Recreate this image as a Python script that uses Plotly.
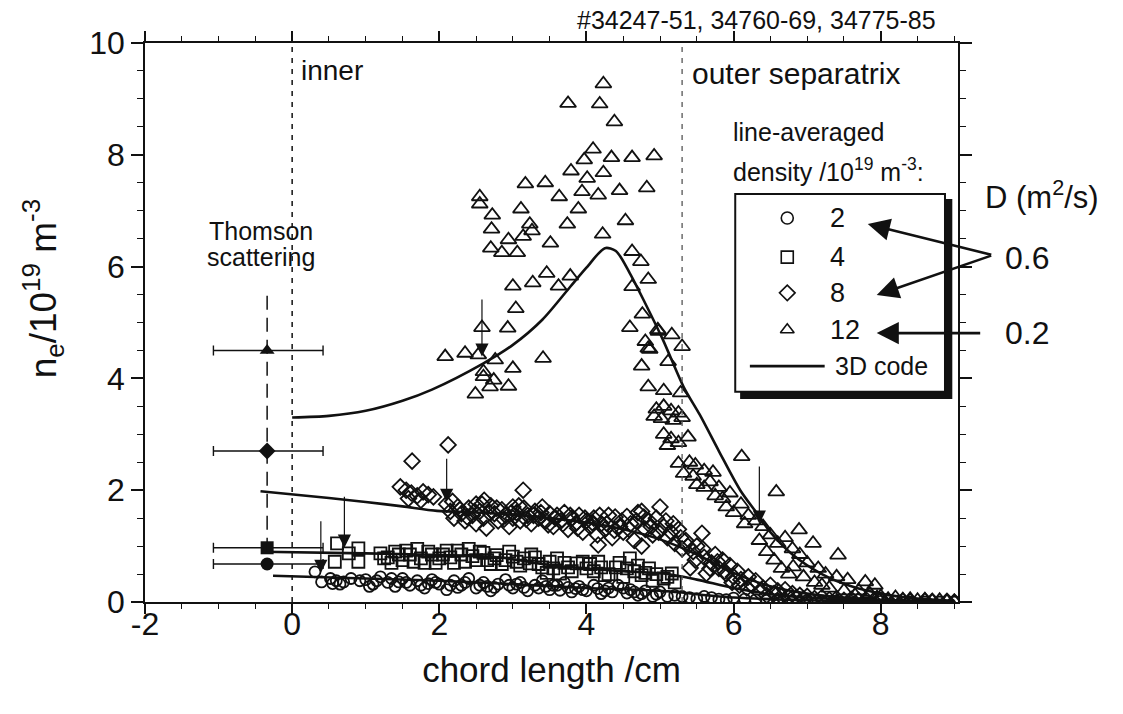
import plotly.graph_objects as go

# ---------------- data ----------------
tri_x = [4.23,3.75,4.18,4.38,4.09,3.97,4.34,4.62,4.92,3.79,4.23,4.01,3.17,3.44,3.94,3.63,4.16,4.45,4.82,
         2.55,2.55,3.11,3.89,2.72,3.74,4.53,2.71,3.23,3.26,3.14,2.94,4.22,3.51,2.70,2.85,3.06,4.62,4.74,
         4.84,4.62,3.46,3.78,3.00,3.27,3.62,3.04,2.58,2.93,4.76,4.59,4.97,5.16,5.30,4.80,4.84,2.08,2.35,
         2.53,2.76,3.41,2.60,2.60,2.74,3.00,2.69,2.94,2.49,4.75,4.84,5.05,5.11,5.28,4.98,4.86,
         4.95,5.05,5.15,5.25,4.92,5.02,5.18,5.30,5.05,5.15,5.25,5.38,5.10,
         5.25,5.40,5.48,5.32,5.45,5.60,5.72,5.50,5.60,5.68,5.80,5.75,5.85,5.95,
         5.90,6.00,6.10,6.20,6.30,6.40,6.15,6.11,6.58,
         6.35,6.50,6.60,6.70,6.80,6.90,6.45,6.55,6.89,7.08,7.42,
         7.00,7.15,7.25,7.40,7.55,6.81,7.10,7.79,7.92,7.70,7.85,8.00,8.20,8.40,8.60,8.80,
         8.50,8.70,8.90,9.00,7.30,7.50,7.65,7.95,8.10,8.30,7.20,6.95,6.65,6.75]
tri_y = [9.27,8.92,8.91,8.59,8.10,7.91,7.95,7.95,7.98,7.71,7.68,7.58,7.48,7.50,7.34,7.25,7.28,7.36,7.41,
         7.25,7.12,7.03,7.03,6.92,6.76,6.82,6.67,6.76,6.64,6.54,6.48,6.58,6.42,6.33,6.25,6.25,6.27,6.09,
         5.77,5.64,5.88,5.83,5.65,5.71,5.65,5.25,4.91,4.90,5.15,4.91,4.87,4.78,4.57,4.66,4.54,4.39,4.45,
         4.42,4.33,4.36,4.12,4.03,3.97,4.18,3.85,3.86,3.72,4.22,3.85,3.78,4.30,3.74,4.84,4.52,
         3.45,3.50,3.42,3.38,3.32,3.28,3.25,3.30,3.00,2.92,2.85,2.95,2.80,
         2.48,2.50,2.45,2.30,2.25,2.35,2.32,2.10,2.05,2.15,2.05,1.90,1.85,1.95,
         1.70,1.60,1.75,1.55,1.45,1.35,1.40,2.60,1.97,
         1.10,1.20,1.05,1.15,0.95,0.85,0.90,0.75,1.29,1.05,0.84,
         0.70,0.60,0.50,0.45,0.40,0.63,0.35,0.36,0.30,0.20,0.15,0.10,0.08,0.05,0.04,0.03,
         0.03,0.02,0.01,0.01,0.25,0.20,0.12,0.08,0.05,0.04,0.30,0.45,0.60,0.50]

dia_x = [2.12,1.63,3.14,2.61,2.64,4.16,4.75,
         1.47,1.55,1.62,1.70,1.78,1.85,1.92,1.58,1.75,
         2.10,2.15,2.20,2.25,2.30,2.35,2.40,2.45,2.50,2.50,
         2.55,2.60,2.70,2.75,2.80,2.85,2.90,2.95,3.00,3.00,
         3.05,3.10,3.15,3.20,3.25,3.30,3.35,3.40,3.45,3.50,
         3.55,3.60,3.65,3.70,3.75,3.80,3.85,3.90,3.95,4.00,
         4.05,4.10,4.15,4.20,4.25,4.30,4.35,4.39,4.45,4.50,
         4.55,4.60,4.65,4.70,4.75,4.80,4.85,4.90,5.00,4.95,
         5.05,5.10,5.15,5.20,5.25,5.30,5.35,5.41,5.45,5.50,5.57,
         5.60,5.63,5.70,5.75,5.80,5.85,5.90,5.95,6.00,
         6.05,6.10,6.20,6.25,6.30,6.40,6.50,6.60,6.70,6.80,6.90,
         7.00,7.20,7.40,7.60,7.80,8.00,8.30,8.60,8.90,
         2.18,2.28,2.38,2.48,2.58,2.68,2.78,2.88,2.98,3.08,3.18,3.28,3.38,3.48,3.58,3.68,3.78,3.88,
         3.98,4.08,4.18,4.28,4.38,4.48,4.58,4.68,4.78,4.88,4.98,5.08,5.18,5.28,5.38,5.48,5.58,5.68,
         5.78,5.88,5.98,6.08,6.18,6.35,6.45,6.55,6.65,6.75,6.85,6.95,7.10,7.30,7.50,7.70,7.90,8.10,
         8.40,8.70,9.00]
dia_y = [2.81,2.52,2.00,1.82,1.32,1.02,1.00,
         2.06,2.00,1.95,1.90,1.97,1.92,1.88,1.85,1.82,
         1.75,1.62,1.50,1.70,1.58,1.45,1.68,1.55,1.40,1.75,
         1.62,1.50,1.72,1.58,1.45,1.65,1.55,1.35,1.70,1.50,
         1.60,1.45,1.68,1.55,1.40,1.62,1.50,1.70,1.45,1.58,
         1.35,1.55,1.45,1.60,1.30,1.50,1.40,1.55,1.25,1.45,
         1.35,1.50,1.20,1.40,1.30,1.55,1.15,1.52,1.35,1.25,
         1.53,1.40,1.10,1.60,1.62,1.30,1.45,1.20,1.70,1.50,
         1.35,1.15,1.25,1.05,1.30,0.95,1.10,0.61,0.90,1.00,1.23,
         0.80,0.51,0.70,0.85,0.60,0.75,0.50,0.65,0.45,
         0.55,0.40,0.45,0.30,0.38,0.25,0.30,0.20,0.22,0.15,0.12,
         0.10,0.08,0.06,0.05,0.04,0.03,0.02,0.02,0.01,
         1.80,1.65,1.52,1.62,1.75,1.60,1.68,1.48,1.60,1.72,1.48,1.55,1.60,1.38,1.50,1.40,1.55,1.32,
         1.50,1.42,1.55,1.40,1.28,1.45,1.30,1.45,1.52,1.35,1.25,1.45,1.40,1.15,1.00,0.75,0.95,0.60,
         0.72,0.55,0.35,0.30,0.25,0.18,0.12,0.15,0.10,0.08,0.07,0.05,0.06,0.04,0.03,0.03,0.02,0.02,
         0.01,0.01,0.00]

sq_x = [0.61,0.90,0.58,0.90,0.77,1.20,
        1.30,1.40,1.50,1.60,1.70,1.80,1.90,2.00,2.10,2.20,2.30,2.40,2.50,2.60,2.70,2.78,2.90,3.00,
        3.10,3.23,3.30,3.46,3.50,3.60,3.64,3.75,3.87,4.00,4.10,4.16,4.30,4.40,4.50,4.59,4.65,4.75,
        4.85,4.95,5.05,5.16,5.20,
        1.35,1.55,1.75,1.95,2.15,2.35,2.55,2.75,2.95,3.15,3.35,3.55,3.70,3.95,4.20,4.45,4.70,4.90,
        1.25,1.45,1.65,1.85,2.05,2.25,2.45,2.65,2.85,3.05,3.25,3.40,3.80,4.05,4.25,4.55,4.80,5.10]
sq_y = [1.05,0.96,0.72,0.72,0.87,0.87,
        0.80,0.90,0.75,0.85,0.95,0.70,0.85,0.78,0.92,0.70,0.85,0.95,0.75,0.88,0.68,0.84,0.75,0.81,
        0.65,0.69,0.80,0.52,0.72,0.78,0.51,0.62,0.69,0.60,0.55,0.72,0.50,0.62,0.45,0.78,0.55,0.48,
        0.60,0.50,0.42,0.51,0.35,
        0.70,0.92,0.78,0.70,0.80,0.72,0.90,0.78,0.90,0.78,0.68,0.60,0.70,0.72,0.62,0.70,0.65,0.38,
        0.78,0.85,0.72,0.90,0.85,0.92,0.82,0.75,0.68,0.72,0.85,0.62,0.55,0.68,0.48,0.60,0.52,0.45]

cir_x = [0.31,0.40,0.52,0.60,0.70,0.80,0.92,0.55,0.65,
         1.00,1.10,1.20,1.30,1.40,1.50,1.60,1.70,1.80,1.90,2.00,
         2.10,2.20,2.30,2.40,2.50,2.60,2.70,2.80,2.90,3.00,
         3.10,3.20,3.30,3.40,3.50,3.60,3.64,3.70,3.80,3.90,4.00,
         4.10,4.20,4.30,4.43,4.55,4.60,4.70,4.80,4.90,5.00,
         5.20,5.40,5.60,5.80,6.00,6.30,6.60,7.00,7.40,7.80,8.20,8.60,9.00,
         1.05,1.45,1.85,2.25,2.65,3.05,3.45,3.85,4.25,4.65,
         1.15,1.35,1.55,1.75,1.95,2.15,2.35,2.55,2.75,2.95,3.15,3.35,3.55,3.75,3.95,4.15,4.35,4.50,
         4.75,4.95,5.10,5.30,5.50,5.70,5.90,6.15,6.45,6.80,7.20,7.60,8.00,8.40,8.80]
cir_y = [0.54,0.36,0.42,0.38,0.36,0.42,0.38,0.33,0.32,
         0.40,0.32,0.45,0.35,0.28,0.42,0.30,0.38,0.25,0.40,0.32,
         0.22,0.38,0.30,0.42,0.25,0.35,0.20,0.32,0.40,0.25,
         0.35,0.20,0.30,0.38,0.22,0.30,0.21,0.35,0.18,0.28,0.20,
         0.30,0.15,0.25,0.30,0.16,0.22,0.12,0.20,0.10,0.18,
         0.12,0.08,0.10,0.05,0.07,0.04,0.05,0.03,0.02,0.02,0.01,0.00,0.00,
         0.28,0.36,0.33,0.26,0.28,0.32,0.28,0.24,0.20,0.18,
         0.38,0.42,0.35,0.30,0.35,0.30,0.35,0.30,0.26,0.30,0.26,0.25,0.30,0.26,0.22,0.24,0.18,0.25,
         0.15,0.14,0.10,0.10,0.06,0.08,0.04,0.05,0.03,0.03,0.02,0.01,0.01,0.00,0.00]

# 3D code curves
m12_x = [0.0,0.5,1.0,1.5,1.9,2.6,3.0,3.4,3.78,4.0,4.25,4.4,4.59,4.8,5.04,5.32,5.54,5.8,6.09,6.31,6.5,6.8,7.2,7.6,8.0,8.5,9.0]
m12_y = [3.30,3.33,3.42,3.60,3.80,4.27,4.60,5.05,5.64,5.98,6.33,6.28,5.88,5.34,4.69,3.85,3.35,2.70,2.00,1.60,1.25,0.85,0.50,0.28,0.15,0.06,0.02]
m8_x = [-0.43,0.5,1.0,1.5,1.97,2.5,3.0,3.5,4.0,4.5,5.0,5.5,6.0,6.5,7.0,7.5,8.0,8.5,9.0]
m8_y = [1.98,1.86,1.79,1.71,1.63,1.60,1.56,1.50,1.42,1.30,1.12,0.85,0.52,0.28,0.15,0.08,0.04,0.02,0.01]
m4_x = [-0.40,1.0,2.0,2.8,3.5,4.0,4.5,5.1,5.5,6.0,6.5,7.0,8.0,9.0]
m4_y = [0.90,0.87,0.84,0.80,0.66,0.60,0.55,0.50,0.40,0.25,0.14,0.08,0.03,0.01]
m2_x = [-0.26,1.0,2.0,3.0,4.0,5.0,6.0,7.0,8.0,9.0]
m2_y = [0.47,0.42,0.38,0.32,0.25,0.20,0.08,0.03,0.01,0.0]

# Thomson scattering
ts_x = [-0.34, -0.34, -0.34, -0.34]
ts_y = [4.50, 2.70, 0.97, 0.68]
ts_err_minus = [0.73, 0.73, 0.73, 0.73]
ts_err_plus = [0.76, 0.76, 0.76, 0.76]
ts_symbols = ["triangle-up", "diamond", "square", "circle"]

# arrows marking positions (x, tail y, head y)
arr_x = [0.39, 0.71, 2.10, 2.58, 6.35]
arr_tail = [1.47, 1.91, 2.59, 5.44, 2.45]
arr_head = [0.52, 0.97, 1.79, 4.39, 1.40]

x_ticks = [-2, 0, 2, 4, 6, 8]
x_ticktext = ["-2", "0", "2", "4", "6", "8"]
y_ticks = [0, 2, 4, 6, 8, 10]

legend_labels = ["2", "4", "8", "12"]
legend_symbols = ["circle-open", "square-open", "diamond-open", "triangle-up-open"]

FONT = "Liberation Sans, Arial, Helvetica, sans-serif"
INK = "#111111"

fig = go.Figure()

def open_series(x, y, sym, size):
    fig.add_trace(go.Scatter(x=x, y=y, mode="markers", showlegend=False,
                             marker=dict(symbol=sym, size=size, color=INK,
                                         line=dict(color=INK, width=1.8))))

open_series(cir_x, cir_y, "circle-open", 11)
open_series(sq_x, sq_y, "square-open", 12)
open_series(dia_x, dia_y, "diamond-open", 12)
open_series(tri_x, tri_y, "triangle-up-open", 14)

for mx, my in [(m12_x, m12_y), (m8_x, m8_y), (m4_x, m4_y), (m2_x, m2_y)]:
    fig.add_trace(go.Scatter(x=mx, y=my, mode="lines", showlegend=False,
                             line=dict(color=INK, width=2.6, shape="spline", smoothing=0.8)))

fig.add_trace(go.Scatter(x=ts_x, y=ts_y, mode="markers", showlegend=False,
                         marker=dict(symbol=ts_symbols, size=13, color=INK),
                         error_x=dict(type="data", symmetric=False, array=ts_err_plus,
                                      arrayminus=ts_err_minus, color=INK, thickness=1.4, width=5)))

# legend markers on an overlay axis (0..1 of plot area)
leg_y = [0.687, 0.617, 0.553, 0.487]
for sym, ly in zip(legend_symbols, leg_y):
    fig.add_trace(go.Scatter(x=[0.790], y=[ly], xaxis="x2", yaxis="y2", mode="markers",
                             showlegend=False,
                             marker=dict(symbol=sym, size=12, color=INK, line=dict(color=INK, width=1.6))))

shapes = [
    dict(type="line", xref="x", yref="y", x0=0, x1=0, y0=0, y1=10,
         line=dict(color=INK, width=1.5, dash="5px,6px")),
    dict(type="line", xref="x", yref="y", x0=5.3, x1=5.3, y0=0, y1=10,
         line=dict(color="#555555", width=1.3, dash="5px,6px")),
    dict(type="line", xref="x", yref="y", x0=-0.34, x1=-0.34, y0=0.9, y1=5.6,
         line=dict(color=INK, width=1.5, dash="14px,8px")),
    # legend shadow + box
    dict(type="rect", xref="paper", yref="paper", x0=0.732, x1=0.993, y0=0.363, y1=0.721,
         fillcolor=INK, line=dict(width=0), layer="below"),
    dict(type="rect", xref="paper", yref="paper", x0=0.726, x1=0.984, y0=0.376, y1=0.730,
         fillcolor="white", line=dict(color=INK, width=2), layer="below"),
    dict(type="line", xref="paper", yref="paper", x0=0.744, x1=0.836, y0=0.422, y1=0.422,
         line=dict(color=INK, width=2.6)),
]

ann = []
def txt(x, y, s, size, xanchor="left", xref="paper", yref="paper"):
    ann.append(dict(x=x, y=y, xref=xref, yref=yref, text=s, showarrow=False,
                    xanchor=xanchor, yanchor="middle", font=dict(family=FONT, size=size, color=INK)))

txt(0.975, 1.041, "#34247-51, 34760-69, 34775-85", 25, xanchor="right")
txt(0.190, 0.951, "inner", 28)
txt(0.670, 0.946, "outer separatrix", 30)
txt(0.721, 0.841, "line-averaged", 25)
txt(0.721, 0.773, "density /10<sup>19</sup> m<sup>-3</sup>:", 25)
for lab, ly in zip(legend_labels, leg_y):
    txt(0.840, ly, lab, 27)
txt(0.846, 0.422, "3D code", 25)
txt(1.031, 0.728, "D (m<sup>2</sup>/s)", 31)
txt(1.055, 0.615, "0.6", 32)
txt(1.055, 0.481, "0.2", 32)
txt(0.143, 0.663, "Thomson", 25, xanchor="center")
txt(0.143, 0.617, "scattering", 25, xanchor="center")
# y title
ann.append(dict(x=-0.125, y=0.56, xref="paper", yref="paper", showarrow=False, textangle=-90,
                text="n<sub>e</sub>/10<sup>19</sup> m<sup>-3</sup>", xanchor="center", yanchor="middle",
                font=dict(family=FONT, size=37, color=INK)))

# arrows from D values to legend entries
for hx, hy, ax_, ay_ in [(0.889, 0.676, 125, 31), (0.900, 0.549, 116, -40), (0.900, 0.481, 105, 0)]:
    ann.append(dict(x=hx, y=hy, xref="paper", yref="paper", ax=ax_, ay=ay_, text="",
                    showarrow=True, arrowhead=2, arrowsize=1.7, arrowwidth=2.6, arrowcolor=INK))

# position arrows in data
for x, t, h in zip(arr_x, arr_tail, arr_head):
    ann.append(dict(x=x, y=h, xref="x", yref="y", ax=x, ay=t, axref="x", ayref="y", text="",
                    showarrow=True, arrowhead=2, arrowsize=2.2, arrowwidth=1.2, arrowcolor=INK))

axis_common = dict(showline=True, linecolor=INK, linewidth=1.6, mirror="allticks",
                   ticks="outside", tickcolor=INK, tickwidth=1.5,
                   showgrid=False, zeroline=False,
                   tickfont=dict(family=FONT, size=32, color=INK))

fig.update_layout(
    width=1123, height=714,
    margin=dict(l=145, r=165, t=43, b=112),
    paper_bgcolor="white", plot_bgcolor="white",
    xaxis=dict(range=[-2, 9.05], tickvals=x_ticks, ticktext=x_ticktext, ticklen=10,
               ticklabelstandoff=-17,
               minor=dict(dtick=0.5, tick0=-2, ticks="outside", ticklen=5, tickcolor=INK, tickwidth=1.3),
               title=dict(text="chord length /cm", font=dict(family=FONT, size=35, color=INK), standoff=16),
               **axis_common),
    yaxis=dict(range=[0, 10], tickvals=y_ticks, ticklen=12,
               minor=dict(dtick=0.5, tick0=0, ticks="outside", ticklen=6, tickcolor=INK, tickwidth=1.3),
               **axis_common),
    xaxis2=dict(overlaying="x", range=[0, 1], visible=False),
    yaxis2=dict(overlaying="y", range=[0, 1], visible=False),
    shapes=shapes, annotations=ann,
    font=dict(family=FONT, color=INK),
)

fig.write_html("out.html")
